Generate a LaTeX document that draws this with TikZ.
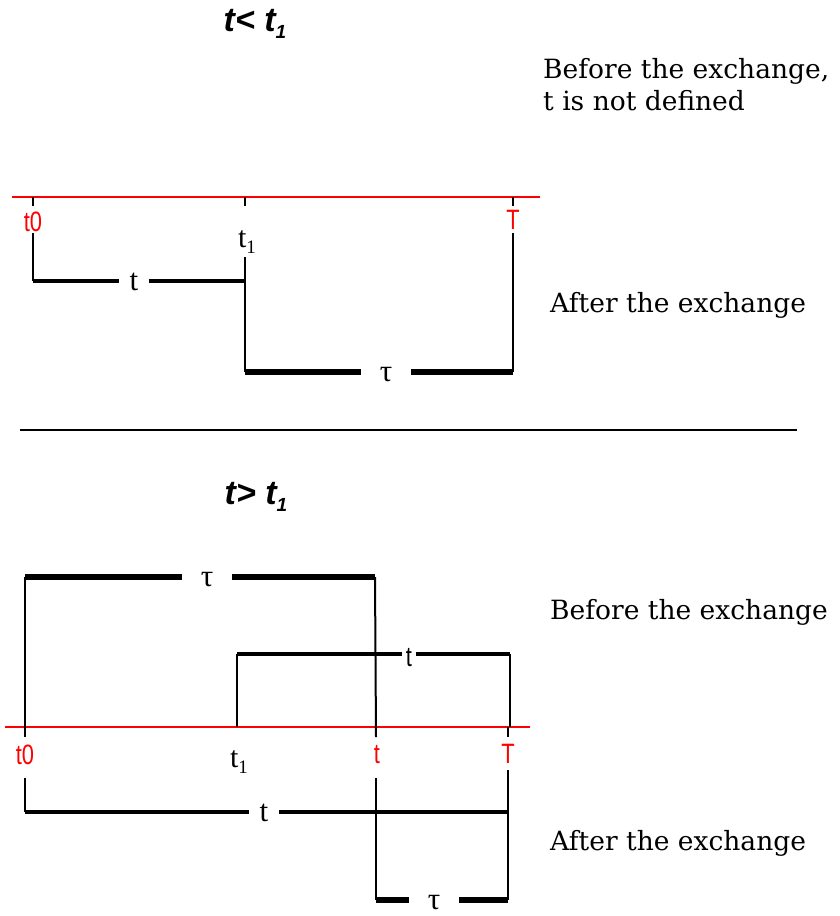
\documentclass[tikz,border=0pt]{standalone}
\usepackage{fontspec}
\setmainfont{DejaVu Serif}
\newfontfamily\lsans{Liberation Sans}
\newfontfamily\lsansn[FakeStretch=0.78]{Liberation Sans}
\newfontfamily\lserif{Liberation Serif}
\usetikzlibrary{calc}
\tikzset{
  axisln/.style={red, line width=1.5pt},
  thinln/.style={black, line width=2pt},
  midln/.style={black, line width=3.5pt},
  thickln/.style={black, line width=6pt},
  redlbl/.style={text=red, font=\lsansn\fontsize{28}{28}\selectfont, inner sep=0pt},
  blklbl/.style={text=black, font=\lserif\fontsize{30}{30}\selectfont, inner sep=0pt},
  linelbl/.style={font=\lserif\fontsize{31}{31}\selectfont, inner sep=0pt, inner xsep=10pt},
  sanslbl/.style={font=\lsansn\fontsize{28}{28}\selectfont, inner sep=0pt, inner xsep=4pt},
  taulbl/.style={font=\lserif\fontsize{31}{31}\selectfont, inner sep=0pt, inner xsep=19pt},
  note/.style={font=\fontsize{26.5}{32}\selectfont, anchor=west, align=left, inner sep=0pt},
  titlelbl/.style={font=\lsans\bfseries\itshape\fontsize{34}{34}\selectfont, inner sep=0pt}
}
\newcommand{\subone}{\raisebox{-0.4ex}{\fontsize{19}{19}\selectfont 1}}
\begin{document}
\begin{tikzpicture}[x=1pt,y=-1pt]
\useasboundingbox (0,0) rectangle (840,916);
% ---------- top section ----------
\node[titlelbl] (title1) at (255,24) {t< t\subone};
\node[note] (before1) at (543,85) {Before the exchange,\\t is not defined};
\coordinate (axL1) at (12,197);
\coordinate (axR1) at (540,197);
\draw[axisln] (axL1) -- (axR1);
\coordinate (A0) at (33,197);
\coordinate (A1) at (245,197);
\coordinate (AT) at (513,197);
\coordinate (A0t) at (33,206);
\coordinate (A1t) at (245,206);
\coordinate (ATt) at (513,206);
\draw[thinln] (A0) -- (A0t);
\draw[thinln] (A1) -- (A1t);
\draw[thinln] (AT) -- (ATt);
\node[redlbl] (lt0a) at (33,222) {t0};
\node[blklbl] (lt1a) at (247,242) {t\subone};
\node[redlbl] (lTa) at (513,220) {T};
\coordinate (B0top) at (33,233);
\coordinate (B0) at (33,281);
\coordinate (B1) at (245,281);
\coordinate (B1top) at (245,257);
\coordinate (C1) at (245,372);
\coordinate (CT) at (513,372);
\coordinate (CTtop) at (513,233);
\node[linelbl] (tA) at (134,282) {t};
\node[taulbl] (tauA) at (386,375) {τ};
\draw[thinln] (B0top) -- (B0);
\draw[midln] (B0) -- (tA.west |- B0);
\draw[midln] (tA.east |- B1) -- (B1);
\draw[thinln] (B1top) -- (C1);
\draw[thickln] (C1) -- (tauA.west |- C1);
\draw[thickln] (tauA.east |- CT) -- (CT);
\draw[thinln] (CTtop) -- (CT);
\node[note] (after1) at (550,305) {After the exchange};
% separator
\coordinate (sepL) at (20,430);
\coordinate (sepR) at (797,430);
\draw[black, line width=1.5pt] (sepL) -- (sepR);
% ---------- bottom section ----------
\node[titlelbl] (title2) at (256,497) {t> t\subone};
\node[note] (before2) at (550,612) {Before the exchange};
\node[note] (after2) at (550,843) {After the exchange};
\coordinate (D0) at (25,577);
\coordinate (DT) at (375,577);
\node[taulbl] (tauB) at (207,580) {τ};
\draw[thickln] (D0) -- (tauB.west |- D0);
\draw[thickln] (tauB.east |- DT) -- (DT);
\coordinate (E1) at (237,654);
\coordinate (ET) at (510,654);
\node[sanslbl] (tB) at (409,658) {t};
\draw[midln] (E1) -- (tB.west |- E1);
\draw[midln] (tB.east |- ET) -- (ET);
\coordinate (axL2) at (5,727);
\coordinate (axR2) at (530,727);
\coordinate (F0) at (25,727);
\coordinate (F1) at (237,727);
\coordinate (Ft) at (376,727);
\coordinate (FT) at (508,727);
\coordinate (FTr) at (510,727);
\draw[axisln] (axL2) -- (axR2);
\draw[thinln] (D0) -- ($(F0)+(0,10)$);
\draw[thinln] (DT) -- ($(Ft)+(0,10)$);
\draw[thinln] (E1) -- (F1);
\draw[thinln] (ET) -- (FTr);
\draw[thinln] (FT) -- ($(FT)+(0,10)$);
\node[redlbl] (lt0b) at (25,755) {t0};
\node[blklbl] (lt1b) at (239,762) {t\subone};
\node[redlbl] (ltb) at (377,755) {t};
\node[redlbl] (lTb) at (508,754) {T};
\coordinate (G0top) at (25,778);
\coordinate (G0) at (25,812);
\coordinate (GT) at (508,812);
\coordinate (GTtop) at (508,770);
\coordinate (Httop) at (376,778);
\coordinate (Ht) at (376,900);
\coordinate (HT) at (508,900);
\node[linelbl] (tC) at (264,813) {t};
\node[taulbl] (tauC) at (434,903) {τ};
\draw[thinln] (G0top) -- (G0);
\draw[midln] (G0) -- (tC.west |- G0);
\draw[midln] (tC.east |- GT) -- (GT);
\draw[thinln] (GTtop) -- (HT);
\draw[thinln] (Httop) -- (Ht);
\draw[thickln] (Ht) -- (tauC.west |- Ht);
\draw[thickln] (tauC.east |- HT) -- (HT);
\end{tikzpicture}
\end{document}
